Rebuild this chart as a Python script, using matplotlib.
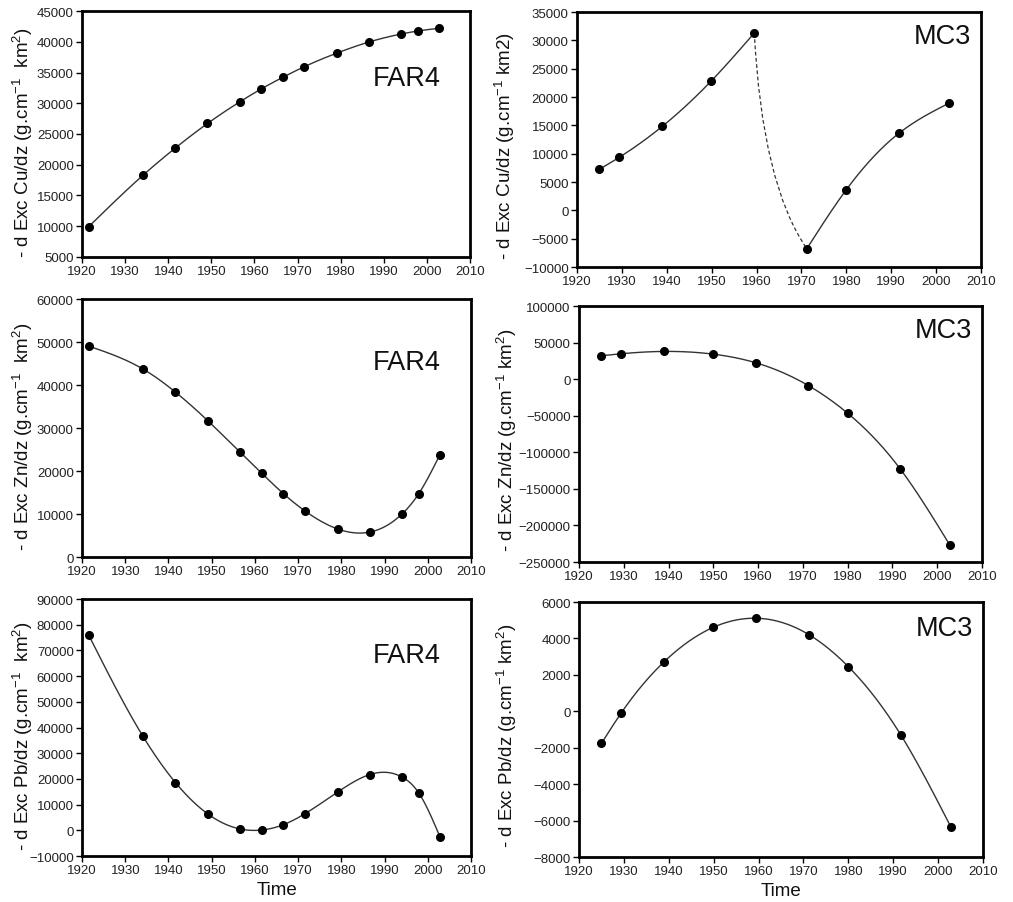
import numpy as np
import matplotlib
matplotlib.use('Agg')
import matplotlib.pyplot as plt
from matplotlib.path import Path
from matplotlib.patches import PathPatch

plt.rcParams['font.family'] = ['Liberation Sans', 'DejaVu Sans']
plt.rcParams['mathtext.fontset'] = 'custom'
plt.rcParams['mathtext.rm'] = 'Liberation Sans'
plt.rcParams['mathtext.it'] = 'Liberation Sans:italic'
plt.rcParams['mathtext.bf'] = 'Liberation Sans:bold'

# years of the sampled layers
far4_years = [1921.5, 1934.1, 1941.6, 1949.1, 1956.6, 1961.6, 1966.6,
              1971.6, 1979.2, 1986.6, 1994.1, 1997.9, 2002.8]
mc3_years = [1925.0, 1929.4, 1939.0, 1949.9, 1959.5, 1971.2, 1980.0,
             1991.7, 2002.8]

# FAR4 core
far4_cu = [9900, 18270, 22700, 26710, 30230, 32340, 34230,
           35960, 38180, 39970, 41270, 41750, 42190]
far4_zn = [49070, 43720, 38370, 31700, 24340, 19460, 14730,
           10700, 6510, 5810, 10080, 14730, 23800]
far4_pb = [76100, 36550, 18600, 6370, 520, 130, 2210,
           6500, 14960, 21720, 20680, 14570, -2470]

# MC3 core
mc3_cu = [7240, 9350, 14820, 22820, 31290, -6770, 3650, 13590, 18880]
mc3_zn = [31980, 34730, 37920, 34270, 22390, -8680, -46600, -122450, -226630]
mc3_pb = [-1760, -90, 2730, 4610, 5110, 4210, 2450, -1300, -6330]
mc3_cu_break = 5  # gap between 1959.5 and 1971.2 drawn dashed


def natural_spline(x, y, n=300):
    x = np.asarray(x, float)
    y = np.asarray(y, float)
    k = len(x)
    h = np.diff(x)
    A = np.zeros((k, k))
    b = np.zeros(k)
    A[0, 0] = 1
    A[-1, -1] = 1
    for i in range(1, k - 1):
        A[i, i - 1] = h[i - 1]
        A[i, i] = 2 * (h[i - 1] + h[i])
        A[i, i + 1] = h[i]
        b[i] = 6 * ((y[i + 1] - y[i]) / h[i] - (y[i] - y[i - 1]) / h[i - 1])
    M = np.linalg.solve(A, b)
    xs = np.linspace(x[0], x[-1], n)
    idx = np.clip(np.searchsorted(x, xs) - 1, 0, k - 2)
    x0, x1 = x[idx], x[idx + 1]
    hh = x1 - x0
    t0, t1 = x1 - xs, xs - x0
    ys = (M[idx] * t0 ** 3 + M[idx + 1] * t1 ** 3) / (6 * hh) \
        + (y[idx] / hh - M[idx] * hh / 6) * t0 \
        + (y[idx + 1] / hh - M[idx + 1] * hh / 6) * t1
    return xs, ys


def draw(ax, x, y):
    xs, ys = natural_spline(x, y)
    ax.plot(xs, ys, color='#333333', lw=1.0, zorder=2)


panels = [
    # rect, years, values, ylim, ystep, label text, tag, tag pos
    ([0.081, 0.7143, 0.383, 0.2724], far4_years, far4_cu, (5000, 45000), 5000,
     '- d Exc Cu/dz (g.cm$^{-1}$  km$^{2}$)', 'FAR4', (0.923, 0.726)),
    ([0.5696, 0.7032, 0.3988, 0.2824], mc3_years, mc3_cu, (-10000, 35000), 5000,
     '- d Exc Cu/dz (g.cm$^{-1}$ km2)', 'MC3', (0.975, 0.905)),
    ([0.081, 0.382, 0.384, 0.2857], far4_years, far4_zn, (0, 60000), 10000,
     '- d Exc Zn/dz (g.cm$^{-1}$  km$^{2}$)', 'FAR4', (0.923, 0.755)),
    ([0.5716, 0.3765, 0.3978, 0.2835], mc3_years, mc3_zn, (-250000, 100000), 50000,
     '- d Exc Zn/dz (g.cm$^{-1}$ km$^{2}$)', 'MC3', (0.975, 0.905)),
    ([0.081, 0.0509, 0.384, 0.2846], far4_years, far4_pb, (-10000, 90000), 10000,
     '- d Exc Pb/dz (g.cm$^{-1}$  km$^{2}$)', 'FAR4', (0.923, 0.783)),
    ([0.5716, 0.0498, 0.3988, 0.2824], mc3_years, mc3_pb, (-8000, 6000), 2000,
     '- d Exc Pb/dz (g.cm$^{-1}$ km$^{2}$)', 'MC3', (0.975, 0.9)),
]

fig = plt.figure(figsize=(10.13, 9.03), dpi=100)

for i, (rect, xv, yv, ylim, ystep, ylab, tag, tpos) in enumerate(panels):
    ax = fig.add_axes(rect)
    if yv is mc3_cu:
        b = mc3_cu_break
        draw(ax, xv[:b], yv[:b])
        draw(ax, xv[b:], yv[b:])
        # dashed connecting curve between the two segments
        x0, y0 = xv[b - 1], yv[b - 1]
        x1, y1 = xv[b], yv[b]
        ctrl = (x0 + 0.15 * (x1 - x0), y0 + 0.7 * (y1 - y0))
        path = Path([(x0, y0), ctrl, (x1, y1)],
                    [Path.MOVETO, Path.CURVE3, Path.CURVE3])
        ax.add_patch(PathPatch(path, fc='none', ec='#333333', lw=0.9,
                               ls=(0, (3, 2)), zorder=2))
    else:
        draw(ax, xv, yv)
    ax.plot(xv, yv, 'o', color='black', ms=5.5, zorder=3)

    ax.set_xlim(1920, 2010)
    ax.set_xticks(np.arange(1920, 2011, 10))
    ax.set_ylim(*ylim)
    ax.set_yticks(np.arange(ylim[0], ylim[1] + 1, ystep))
    ax.tick_params(direction='out', length=4, width=1, labelsize=9.5,
                   labelcolor='#222222', pad=2)
    for s in ax.spines.values():
        s.set_linewidth(2)
    ax.set_ylabel(ylab, fontsize=13.5, color='#111111')
    if i % 2 == 0:
        ax.yaxis.set_label_coords(-0.12, 0.47)
    else:
        ax.yaxis.set_label_coords(-0.148, 0.478)
    ax.text(tpos[0], tpos[1], tag, transform=ax.transAxes, ha='right',
            va='center', fontsize=19.5, color='#111111')
    if i >= 4:
        ax.set_xlabel('Time', fontsize=13.5, labelpad=3, color='#111111')

plt.savefig('out.png', dpi=100)
